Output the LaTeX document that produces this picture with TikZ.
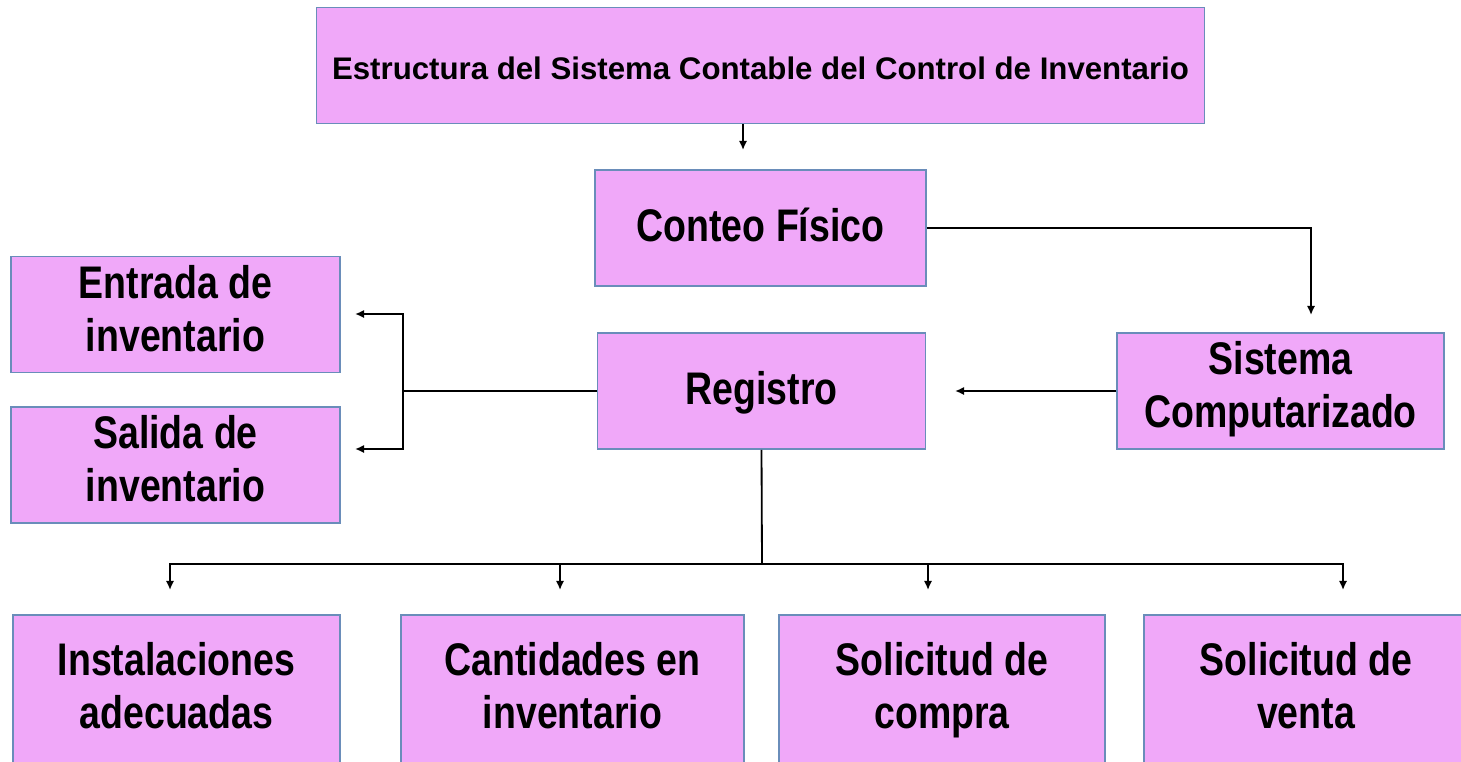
\documentclass[tikz,border=0pt]{standalone}
\usepackage{fontspec}
\setmainfont{Liberation Sans}
\newfontfamily\estrecha[FakeStretch=0.82]{Liberation Sans}
\usetikzlibrary{arrows.meta}
\definecolor{rosa}{HTML}{F0A8F9}
\definecolor{borde}{HTML}{6A8DBA}
\newcommand\puntal{\rule[-9pt]{0pt}{37.6pt}}
\newcommand\puntaltitulo{\rule[-4pt]{0pt}{24.4pt}}

\begin{document}
\begin{tikzpicture}[x=0.025cm, y=-0.025cm,
    caja/.style={draw=borde, fill=rosa, line width=1.2pt, inner sep=0pt,
      minimum width=8.2cm, minimum height=2.9cm, align=center,
      execute at begin node=\puntal, execute at end node=\puntal,
      font={\estrecha\bfseries\fontsize{32.5}{37.6}\selectfont}},
    linea/.style={line width=1.3pt},
    flecha/.style={line width=1.3pt, -{Latex[length=6.5pt,width=6pt]}}]

  \clip (0,0) rectangle (1461,762);

  \node[caja, minimum width=22.2cm, minimum height=2.9cm,
    execute at begin node=\puntaltitulo, execute at end node=\puntaltitulo,
    font={\bfseries\fontsize{22.2}{27}\selectfont}] (titulo) at (760.5,65.5)
    {Estructura del Sistema Contable del Control de Inventario};

  \node[caja, minimum width=8.275cm] (conteo) at (760.5,228) {Conteo Físico};
  \node[caja] (registro) at (761.5,391) {Registro};
  \node[caja, minimum width=8.175cm] (sistema) at (1280.5,391) {Sistema\\Computarizado};

  \node[caja, minimum width=8.225cm] (entrada) at (175.5,314.5) {Entrada de\\inventario};
  \node[caja, minimum width=8.225cm] (salida) at (175.5,465) {Salida de\\inventario};

  \node[caja, minimum width=8.175cm, minimum height=3.85cm] (instal) at (176.5,692) {Instalaciones\\adecuadas};
  \node[caja, minimum width=8.575cm, minimum height=3.85cm] (cantidades) at (572.5,692) {Cantidades en\\inventario};
  \node[caja, minimum width=8.15cm, minimum height=3.85cm] (compra) at (942,692) {Solicitud de\\compra};
  \node[caja, minimum width=8.1cm, minimum height=3.85cm] (venta) at (1306,692) {Solicitud de\\venta};

  \coordinate (t1) at (743,150);
  \coordinate (c1) at (1311,315);
  \coordinate (s1) at (955,391);
  \coordinate (rama) at (403,391);
  \coordinate (e1) at (355,314);
  \coordinate (e2) at (355,449);
  \coordinate (bus) at (762,564);
  \coordinate (b1) at (170,590);
  \coordinate (b2) at (560,590);
  \coordinate (b3) at (928,590);
  \coordinate (b4) at (1343,590);

  \draw[flecha] (t1 |- titulo.south) -- (t1);
  \draw[flecha] (conteo.east) -| (c1);
  \draw[flecha] (sistema.west) -- (s1);

  \draw[linea] (registro.west) -- (rama);
  \draw[flecha] (rama) |- (e1);
  \draw[flecha] (rama) |- (e2);

  \draw[linea] (registro.south) -- (bus);
  \foreach \b in {b1,b2,b3,b4}
    \draw[flecha] (bus) -| (\b);

\end{tikzpicture}
\end{document}
